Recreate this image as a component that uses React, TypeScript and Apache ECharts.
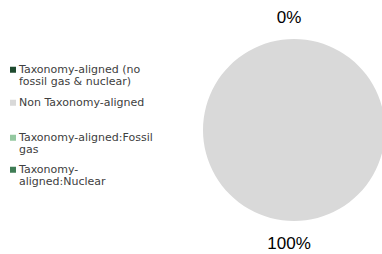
import React, { useEffect, useRef } from "react";
import * as echarts from "echarts";

const categories = [
  "Taxonomy-aligned (no fossil gas & nuclear)",
  "Non Taxonomy-aligned",
  "Taxonomy-aligned:Fossil gas",
  "Taxonomy-aligned:Nuclear",
];
const legendLabels = [
  "Taxonomy-aligned (no\nfossil gas & nuclear)",
  "Non Taxonomy-aligned",
  "Taxonomy-aligned:Fossil\ngas",
  "Taxonomy-\naligned:Nuclear",
];
const values = [0, 100, 0, 0];
const showLabel = [true, true, false, false];
const colors = ["#1f4b2f", "#d9d9d9", "#94c8a0", "#3f7d55"];
const legendTops = [64, 97, 132, 164];

const LINE_H = 11.5;

export default function App() {
  const ref = useRef<HTMLDivElement>(null);
  useEffect(() => {
    if (!ref.current) return;
    const chart = echarts.init(ref.current, null, { renderer: "svg" });
    const legends = categories.map((name, i) => {
      const lines = legendLabels[i].split("\n").length;
      const h = lines * LINE_H;
      const top = (LINE_H - 6) / 2;
      const icon =
        lines > 1
          ? `path://M0,${top}L6,${top}L6,${top + 6}L0,${top + 6}Z M0,0L0,0 M0,${h}L0,${h}`
          : "rect";
      return {
        orient: "vertical",
        left: 10,
        top: legendTops[i],
        padding: 0,
        itemWidth: 6,
        itemHeight: lines > 1 ? h : 6,
        icon,
        symbolKeepAspect: false,
        selectedMode: false,
        data: [name],
        formatter: () => legendLabels[i],
        textStyle: {
          fontFamily: "DejaVu Sans",
          fontSize: 11,
          lineHeight: LINE_H,
          color: "#404040",
          padding: [0, 0, 0, -2],
        },
      };
    });
    chart.setOption({
      animation: false,
      color: colors,
      legend: legends,
      series: [
        {
          type: "pie",
          center: [294, 130],
          radius: 91,
          startAngle: 90,
          clockwise: true,
          avoidLabelOverlap: false,
          itemStyle: { borderWidth: 0 },
          label: {
            show: true,
            position: "outside",
            formatter: (p: any) => `${Math.round(p.percent)}%`,
            fontFamily: "Liberation Sans",
            fontSize: 17,
            color: "#000",
          },
          labelLine: { show: false, length: 22, length2: 0 },
          labelLayout: () => ({ align: "center", verticalAlign: "middle" }),
          emphasis: { disabled: true },
          data: categories.map((name, i) => ({
            name,
            value: values[i],
            label: { show: showLabel[i] },
          })),
        },
      ],
    });
    return () => chart.dispose();
  }, []);
  return <div ref={ref} style={{ width: 382, height: 254, position: "absolute", left: 0, top: 0 }} />;
}
